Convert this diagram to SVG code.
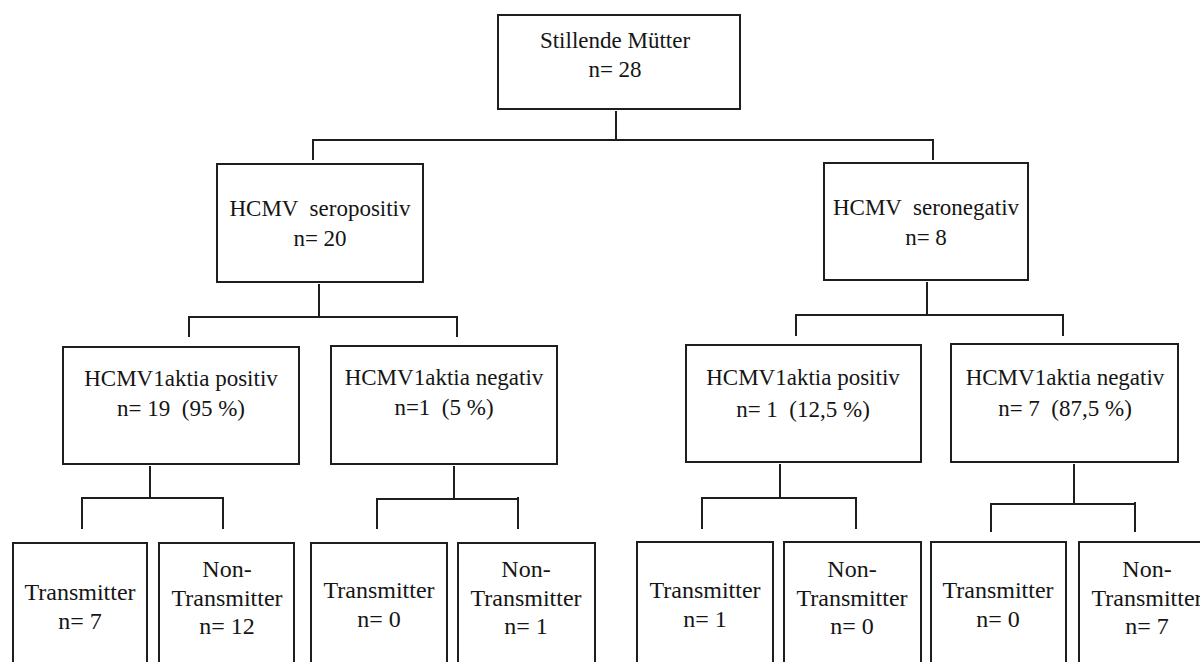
<svg xmlns="http://www.w3.org/2000/svg" width="1200" height="662" viewBox="0 0 1200 662">
<style>
.box{fill:#fff;stroke:#1e1e1e;stroke-width:2}
.t{font-family:'Liberation Serif','Times New Roman',serif;font-size:23px;fill:#151515;text-anchor:middle;white-space:pre}
.l{font-size:24px}
.c line{stroke:#1e1e1e;stroke-width:2}
</style>
<rect width="1200" height="662" fill="#fff"/>
<g class="c" id="connectors">
<line x1="616" y1="111" x2="616" y2="140"/>
<line x1="313" y1="140" x2="933" y2="140"/>
<line x1="313" y1="139" x2="313" y2="160"/>
<line x1="933" y1="139" x2="933" y2="160"/>
<line x1="319" y1="284" x2="319" y2="317"/>
<line x1="189" y1="317" x2="457" y2="317"/>
<line x1="189" y1="316" x2="189" y2="337"/>
<line x1="457" y1="316" x2="457" y2="337"/>
<line x1="927" y1="282" x2="927" y2="315"/>
<line x1="796" y1="315" x2="1063" y2="315"/>
<line x1="796" y1="314" x2="796" y2="336"/>
<line x1="1063" y1="314" x2="1063" y2="336"/>
<line x1="150" y1="466" x2="150" y2="498"/>
<line x1="82" y1="498" x2="223" y2="498"/>
<line x1="82" y1="497" x2="82" y2="529"/>
<line x1="223" y1="497" x2="223" y2="529"/>
<line x1="454" y1="466" x2="454" y2="499"/>
<line x1="377" y1="499" x2="518" y2="499"/>
<line x1="377" y1="498" x2="377" y2="529"/>
<line x1="518" y1="497" x2="518" y2="529"/>
<line x1="780" y1="464" x2="780" y2="498"/>
<line x1="702" y1="498" x2="856" y2="498"/>
<line x1="702" y1="497" x2="702" y2="529"/>
<line x1="856" y1="497" x2="856" y2="529"/>
<line x1="1074" y1="464" x2="1074" y2="504"/>
<line x1="991" y1="504" x2="1135" y2="504"/>
<line x1="991" y1="503" x2="991" y2="532"/>
<line x1="1135" y1="502" x2="1135" y2="532"/>
</g>
<g id="n-mothers">
<rect class="box" x="498" y="15" width="242" height="94"/>
<text class="t" x="615" y="48">Stillende Mütter</text>
<text class="t" x="615" y="77">n= 28</text>
</g>
<g id="n-seropositiv">
<rect class="box" x="217" y="164" width="206" height="118"/>
<text class="t" x="320" y="216">HCMV  seropositiv</text>
<text class="t" x="320" y="246">n= 20</text>
</g>
<g id="n-seronegativ">
<rect class="box" x="824" y="163" width="204" height="117"/>
<text class="t" x="926" y="215">HCMV  seronegativ</text>
<text class="t" x="926" y="245">n= 8</text>
</g>
<g id="n-pos-laktia-pos">
<rect class="box" x="63" y="347" width="236" height="117"/>
<text class="t" x="181" y="386">HCMV1aktia positiv</text>
<text class="t" x="181" y="416">n= 19  (95 %)</text>
</g>
<g id="n-pos-laktia-neg">
<rect class="box" x="331" y="346" width="226" height="118"/>
<text class="t" x="444" y="385">HCMV1aktia negativ</text>
<text class="t" x="444" y="415">n=1  (5 %)</text>
</g>
<g id="n-neg-laktia-pos">
<rect class="box" x="686" y="345" width="235" height="117"/>
<text class="t" x="803" y="385">HCMV1aktia positiv</text>
<text class="t" x="803" y="417">n= 1  (12,5 %)</text>
</g>
<g id="n-neg-laktia-neg">
<rect class="box" x="951" y="344" width="227" height="118"/>
<text class="t" x="1065" y="385">HCMV1aktia negativ</text>
<text class="t" x="1065" y="416">n= 7  (87,5 %)</text>
</g>
<g id="n-leaf1">
<rect class="box" x="13" y="543" width="134" height="140"/>
<text class="t l" x="80" y="600">Transmitter</text>
<text class="t l" x="80" y="629">n= 7</text>
</g>
<g id="n-leaf2">
<rect class="box" x="159" y="543" width="135" height="140"/>
<text class="t l" x="227" y="577">Non-</text>
<text class="t l" x="227" y="606">Transmitter</text>
<text class="t l" x="227" y="634">n= 12</text>
</g>
<g id="n-leaf3">
<rect class="box" x="311" y="543" width="136" height="140"/>
<text class="t l" x="379" y="598">Transmitter</text>
<text class="t l" x="379" y="627">n= 0</text>
</g>
<g id="n-leaf4">
<rect class="box" x="458" y="543" width="137" height="140"/>
<text class="t l" x="526" y="577">Non-</text>
<text class="t l" x="526" y="606">Transmitter</text>
<text class="t l" x="526" y="634">n= 1</text>
</g>
<g id="n-leaf5">
<rect class="box" x="637" y="542" width="136" height="140"/>
<text class="t l" x="705" y="598">Transmitter</text>
<text class="t l" x="705" y="627">n= 1</text>
</g>
<g id="n-leaf6">
<rect class="box" x="784" y="542" width="137" height="140"/>
<text class="t l" x="852" y="577">Non-</text>
<text class="t l" x="852" y="606">Transmitter</text>
<text class="t l" x="852" y="634">n= 0</text>
</g>
<g id="n-leaf7">
<rect class="box" x="931" y="542" width="135" height="140"/>
<text class="t l" x="998" y="598">Transmitter</text>
<text class="t l" x="998" y="627">n= 0</text>
</g>
<g id="n-leaf8">
<rect class="box" x="1079" y="542" width="137" height="140"/>
<text class="t l" x="1147" y="577">Non-</text>
<text class="t l" x="1147" y="606">Transmitter</text>
<text class="t l" x="1147" y="634">n= 7</text>
</g>
</svg>
